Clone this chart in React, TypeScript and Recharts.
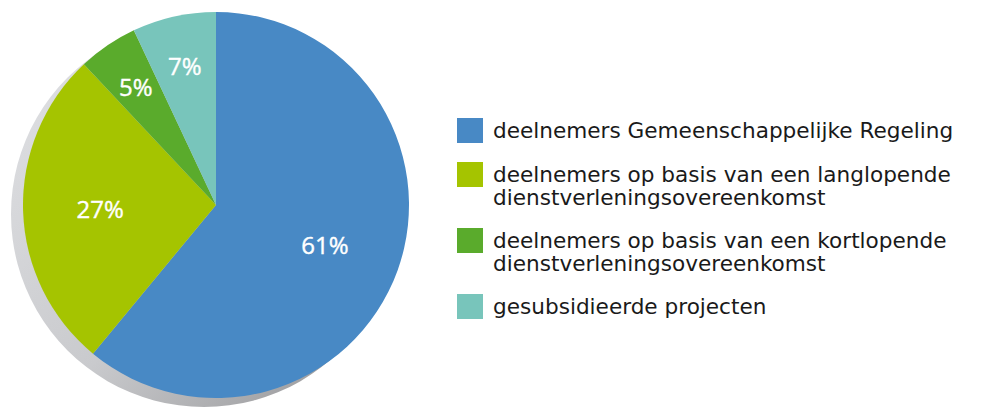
import React from 'react';
import { PieChart, Pie, Cell, Legend } from 'recharts';

const categories = [
  'deelnemers Gemeenschappelijke Regeling',
  'deelnemers op basis van een langlopende dienstverleningsovereenkomst',
  'deelnemers op basis van een kortlopende dienstverleningsovereenkomst',
  'gesubsidieerde projecten',
];
const shares = [61, 27, 5, 7];
const colors = ['#4889c5', '#a5c400', '#5aab2c', '#78c5bb'];

const data = categories.map((name, i) => ({ name, value: shares[i] }));
const shadowData = [{ name: 'shadow', value: 1 }];

const LABEL_FONT = '"Open Sans", "Noto Sans", sans-serif';
const LEGEND_FONT = '"DejaVu Sans", sans-serif';
const RADIAN = Math.PI / 180;

const renderLabel = ({ cx, cy, midAngle, outerRadius, percent, value }: any) => {
  // small slices get their label further out
  const r = outerRadius * (percent < 0.1 ? 0.74 : 0.6);
  const x = cx + r * Math.cos(-midAngle * RADIAN);
  const y = cy + r * Math.sin(-midAngle * RADIAN);
  return (
    <text
      x={x}
      y={y}
      fill="#fff"
      stroke="#fff"
      strokeWidth={0.4}
      textAnchor="middle"
      dominantBaseline="central"
      style={{ fontFamily: LABEL_FONT, fontSize: 24, fontWeight: 500 }}
    >
      {`${value}%`}
    </text>
  );
};

const LegendContent = () => (
  <div style={{ fontFamily: LEGEND_FONT, fontSize: 21.6, color: '#1a1a1a', width: 530 }}>
    {categories.map((name, i) => (
      <div key={name} style={{ display: 'flex', alignItems: 'flex-start', marginBottom: 19 }}>
        <div style={{ width: 26, height: 25, background: colors[i], flexShrink: 0, marginRight: 10 }} />
        <div style={{ lineHeight: '23px', marginTop: 1, width: 490 }}>{name}</div>
      </div>
    ))}
  </div>
);

export default function App() {
  return (
    <div style={{ position: 'absolute', left: 0, top: 0, width: 992, height: 408, background: '#fff' }}>
      <PieChart width={992} height={408} margin={{ top: 0, right: 0, bottom: 0, left: 0 }}>
        <defs>
          <linearGradient id="shadowGrad" x1="0" y1="0" x2="1" y2="1">
            <stop offset="0%" stopColor="#e2e3e6" />
            <stop offset="55%" stopColor="#c9cacd" />
            <stop offset="100%" stopColor="#8e8e90" />
          </linearGradient>
        </defs>
        <Pie
          data={shadowData}
          dataKey="value"
          cx={204}
          cy={214}
          outerRadius={193}
          stroke="none"
          fill="url(#shadowGrad)"
          isAnimationActive={false}
          legendType="none"
        />
        <Pie
          data={data}
          dataKey="value"
          cx={216}
          cy={205}
          outerRadius={193}
          startAngle={90}
          endAngle={-270}
          stroke="none"
          label={renderLabel}
          labelLine={false}
          isAnimationActive={false}
        >
          {data.map((d, i) => (
            <Cell key={d.name} fill={colors[i]} />
          ))}
        </Pie>
        <Legend
          content={<LegendContent />}
          wrapperStyle={{ position: 'absolute', left: 457, top: 118, width: 535, bottom: 'auto' }}
        />
      </PieChart>
    </div>
  );
}
